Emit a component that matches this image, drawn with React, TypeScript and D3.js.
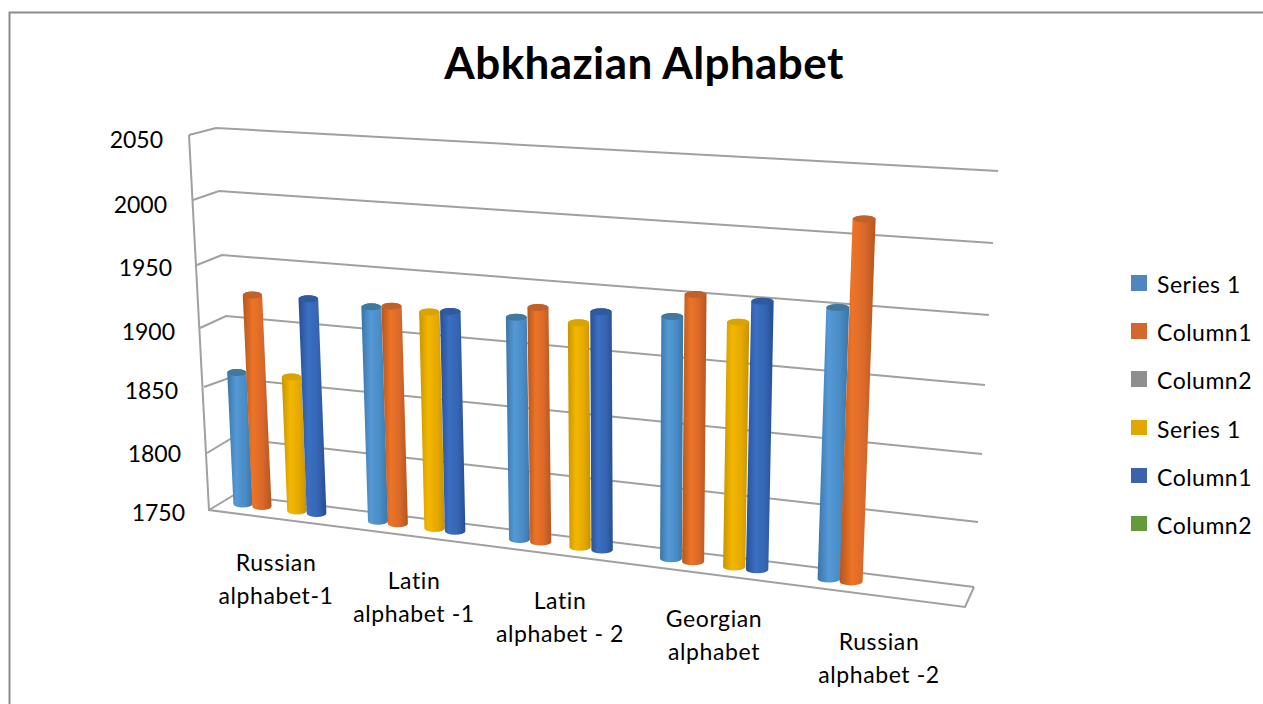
import React from "react";
import * as d3 from "d3";

const title = "Abkhazian Alphabet";
const categories = [["Russian", "alphabet-1"], ["Latin", "alphabet -1"], ["Latin", "alphabet - 2"], ["Georgian", "alphabet"], ["Russian", "alphabet -2"]];
const ticks = [2050, 2000, 1950, 1900, 1850, 1800, 1750];
const series1A = [1856, 1919, 1921, 1932, 1949];
const column1A = [1920, 1921, 1930, 1950, 2015];
const column2A: number[] = [];
const series1B = [1857, 1919, 1921, 1932];
const column1B = [1921, 1921, 1931, 1949];
const column2B: number[] = [];
const legendNames = ["Series 1", "Column1", "Column2", "Series 1", "Column1", "Column2"];

const legendColors = ["#4f86bd", "#d2682a", "#8f8f8f", "#e3a800", "#3c62ad", "#64993c"];
const seriesList = [series1A, column1A, column2A, series1B, column1B, column2B];
const seriesSlot = [0, 0.14, 0.27, 0.4, 0.545, 0.68];
const gradients = [
  ["#3a74a8", "#5499d6", "#4a8cc6", "#3a76ac"],
  ["#b5561d", "#ec7427", "#d9682a", "#b4561f"],
  ["#777", "#aaa", "#999", "#777"],
  ["#c99400", "#f3b700", "#e5a900", "#c59200"],
  ["#264f94", "#3b6fc2", "#3565b3", "#264f94"],
  ["#4e7d2d", "#72ad45", "#659c3c", "#4e7d2d"],
];
const capColors = ["#41789f", "#c0602a", "#888", "#d9a400", "#2f5a9e", "#5a8a35"];

// wall geometry as scales over the value axis
const tickDomain = ticks;
const frontLeftX = d3.scaleLinear().domain(tickDomain).range([189, 193, 197, 200, 204, 207, 209]);
const frontLeftY = d3.scaleLinear().domain(tickDomain).range([135, 200, 265, 328, 387, 453, 510]);
const backLeftX = d3.scaleLinear().domain(tickDomain).range([216, 219, 222, 226, 229, 232, 234]);
const backLeftY = d3.scaleLinear().domain(tickDomain).range([128, 191, 255, 316, 378, 438, 495]);
const backRightX = d3.scaleLinear().domain(tickDomain).range([998, 993, 989, 985, 982, 978, 974]);
const backRightY = d3.scaleLinear().domain(tickDomain).range([171, 243, 315, 385, 454, 522, 587]);
const tickLabelRight = d3.scaleLinear().domain(tickDomain).range([163, 167, 172, 175, 178, 181, 185]);
const tickLabelY = d3.scaleLinear().domain(tickDomain).range([139, 204, 267, 331, 390, 453, 512]);

// bar placement scales
const slotX = d3.scaleLinear().domain([0, 1, 2, 3, 4, 5]).range([243, 378, 519.5, 671, 829, 987]);
const baseY = d3.scaleLinear().domain([243, 852]).range([504, 582]);
const pxPer50 = d3.scaleLinear().domain([243, 852]).range([62, 68.5]);
const tilt = d3.scaleLinear().domain([243, 640, 852]).range([-0.047, 0, 0.036]);
const barRadius = d3.scaleLinear().domain([243, 852]).range([9.6, 11.5]);

const catLabelX = [276, 414, 560, 714, 879];
const catLabelY = [562, 580, 600, 618, 641];
const legendY = [284, 332, 380, 429, 477, 525];

const font = "Lato, Carlito, 'Open Sans', sans-serif";

function Bar({ g, s, value }: { g: number; s: number; value: number }) {
  const x0 = slotX(g + seriesSlot[s]);
  const y0 = baseY(x0);
  const h = ((value - 1750) / 50) * pxPer50(x0);
  const x1 = x0 + tilt(x0) * h;
  const y1 = y0 - h;
  const r0 = barRadius(x0);
  const r1 = r0;
  const ry = 3.5;
  const d = `M${x1 - r1},${y1} L${x0 - r0},${y0} A${r0},${ry} 0 0 0 ${x0 + r0},${y0} L${x1 + r1},${y1} A${r1},${ry} 0 0 0 ${x1 - r1},${y1} Z`;
  return (
    <g>
      <path d={d} fill={`url(#grad${s})`} />
      <ellipse cx={x1} cy={y1} rx={r1} ry={ry} fill={capColors[s]} />
    </g>
  );
}

export default function App() {
  const gridLine = d3.line();
  return (
    <svg width={1263} height={704} style={{ position: "absolute", left: 0, top: 0, background: "#fff" }}>
      <defs>
        {gradients.map((c, i) => (
          <linearGradient key={i} id={`grad${i}`} x1="0" x2="1" y1="0" y2="0">
            <stop offset="0" stopColor={c[0]} />
            <stop offset="0.35" stopColor={c[1]} />
            <stop offset="0.7" stopColor={c[2]} />
            <stop offset="1" stopColor={c[3]} />
          </linearGradient>
        ))}
        <filter id="soft" x="-5%" y="-5%" width="110%" height="110%">
          <feGaussianBlur stdDeviation="0.7" />
        </filter>
      </defs>
      <path d="M9.5,704 V12.5 H1263" fill="none" stroke="#8c8c8c" strokeWidth={2} />
      <text x={644} y={62} textAnchor="middle" dominantBaseline="central" fontFamily={font} fontWeight={700} fontSize={44} letterSpacing={0.4} fill="#000">{title}</text>
      <g filter="url(#soft)">
        <g fill="none" stroke="#a0a0a0" strokeWidth={2}>
          {ticks.map((t) => (
            <path key={t} d={gridLine([[frontLeftX(t), frontLeftY(t)], [backLeftX(t), backLeftY(t)], [backRightX(t), backRightY(t)]]) as string} />
          ))}
          <path d={gridLine([[frontLeftX(2050), frontLeftY(2050)], [frontLeftX(1750), frontLeftY(1750)], [965, 607], [backRightX(1750), backRightY(1750)]]) as string} />
        </g>
        {categories.map((_, g) => (
          <g key={g}>
            {seriesList.map((vals, s) => (vals[g] === undefined ? null : <Bar key={s} g={g} s={s} value={vals[g]} />))}
          </g>
        ))}
      </g>
      <g fontFamily={font} fontSize={23} fill="#000">
        {ticks.map((t) => (
          <text key={t} x={tickLabelRight(t)} y={tickLabelY(t)} textAnchor="end" dominantBaseline="central">{t}</text>
        ))}
        {categories.map((lines, g) => (
          <g key={g}>
            {lines.map((l, i) => (
              <text key={i} x={catLabelX[g]} y={catLabelY[g] + i * 33} textAnchor="middle" dominantBaseline="central" letterSpacing={0.6}>{l}</text>
            ))}
          </g>
        ))}
        {legendNames.map((n, i) => (
          <g key={i}>
            <rect x={1131} y={legendY[i] - 9} width={16} height={i >= 3 ? 15 : 16} fill={legendColors[i]} />
            <text x={1157} y={legendY[i]} dominantBaseline="central" letterSpacing={0.5}>{n}</text>
          </g>
        ))}
      </g>
    </svg>
  );
}
